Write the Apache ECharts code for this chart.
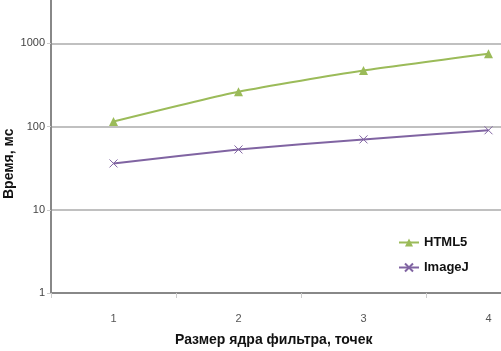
<!DOCTYPE html>
<html>
<head>
<meta charset="utf-8">
<script src="https://cdn.jsdelivr.net/npm/echarts@6/dist/echarts.min.js"></script>
<style>
  html, body { margin: 0; padding: 0; background: #fff; overflow: hidden; }
  /* область построения в оригинале обрезана сверху и справа */
  #wrap { position: relative; width: 501px; height: 351px; overflow: hidden; }
  #chart { position: absolute; left: 0; top: -40px; width: 551px; height: 391px; }
</style>
</head>
<body>
<div id="wrap"><div id="chart"></div></div>
<script>
// размер ядра фильтра
const categories = ['1', '2', '3', '4'];
// время, мс
const html5 = [115, 262, 470, 748];
const imageJ = [36, 53, 70, 90];
const yTicks = [1, 10, 100, 1000];

const crossPath = 'path://M0,0L10,10M10,0L0,10';

const chart = echarts.init(document.getElementById('chart'));
const option = {
  animation: false,
  grid: {
    left: 51,
    right: 0,
    top: 0,
    bottom: 58
  },
  legend: {
    orient: 'vertical',
    left: 393,
    top: 271,
    itemWidth: 20,
    itemHeight: 10,
    itemGap: 12,
    textStyle: {
      fontFamily: 'Liberation Sans',
      fontWeight: 'bold',
      fontSize: 13,
      color: '#111'
    },
    data: ['HTML5', 'ImageJ']
  },
  xAxis: {
    type: 'category',
    data: categories,
    boundaryGap: true,
    axisLine: { lineStyle: { color: '#888', width: 2 } },
    axisTick: { show: true, length: 5, lineStyle: { color: '#ccc' } },
    axisLabel: {
      margin: 20,
      fontFamily: 'Liberation Sans',
      fontSize: 11,
      color: '#555'
    }
  },
  yAxis: {
    type: 'log',
    logBase: 10,
    min: 1,
    max: 10000,
    axisLine: { show: true, lineStyle: { color: '#888', width: 2 } },
    axisTick: { show: true, length: 4, lineStyle: { color: '#ccc' } },
    splitLine: { lineStyle: { color: '#c0c0c0', width: 2 } },
    axisLabel: {
      margin: 6,
      fontFamily: 'Liberation Sans',
      fontSize: 11,
      color: '#444',
      formatter: function (v) { return yTicks.indexOf(v) >= 0 ? String(v) : ''; }
    }
  },
  graphic: [
    {
      type: 'text',
      left: 175,
      top: 373,
      style: {
        text: 'Размер ядра фильтра, точек',
        font: 'bold 14px "Liberation Sans"',
        fill: '#111'
      }
    },
    {
      type: 'text',
      x: 2,
      y: 239,
      rotation: Math.PI / 2,
      style: {
        text: 'Время, мс',
        font: 'bold 14px "Liberation Sans"',
        fill: '#111'
      }
    }
  ],
  series: [
    {
      name: 'HTML5',
      type: 'line',
      data: html5,
      smooth: 0.2,
      symbol: 'triangle',
      symbolSize: 9,
      lineStyle: { color: '#9bbb59', width: 2 },
      itemStyle: { color: '#9bbb59' }
    },
    {
      name: 'ImageJ',
      type: 'line',
      data: imageJ,
      smooth: 0.2,
      symbol: crossPath,
      symbolSize: 8,
      lineStyle: { color: '#8064a2', width: 2 },
      itemStyle: { color: 'transparent', borderColor: '#8064a2', borderWidth: 1 }
    }
  ]
};
chart.setOption(option);
</script>
</body>
</html>
